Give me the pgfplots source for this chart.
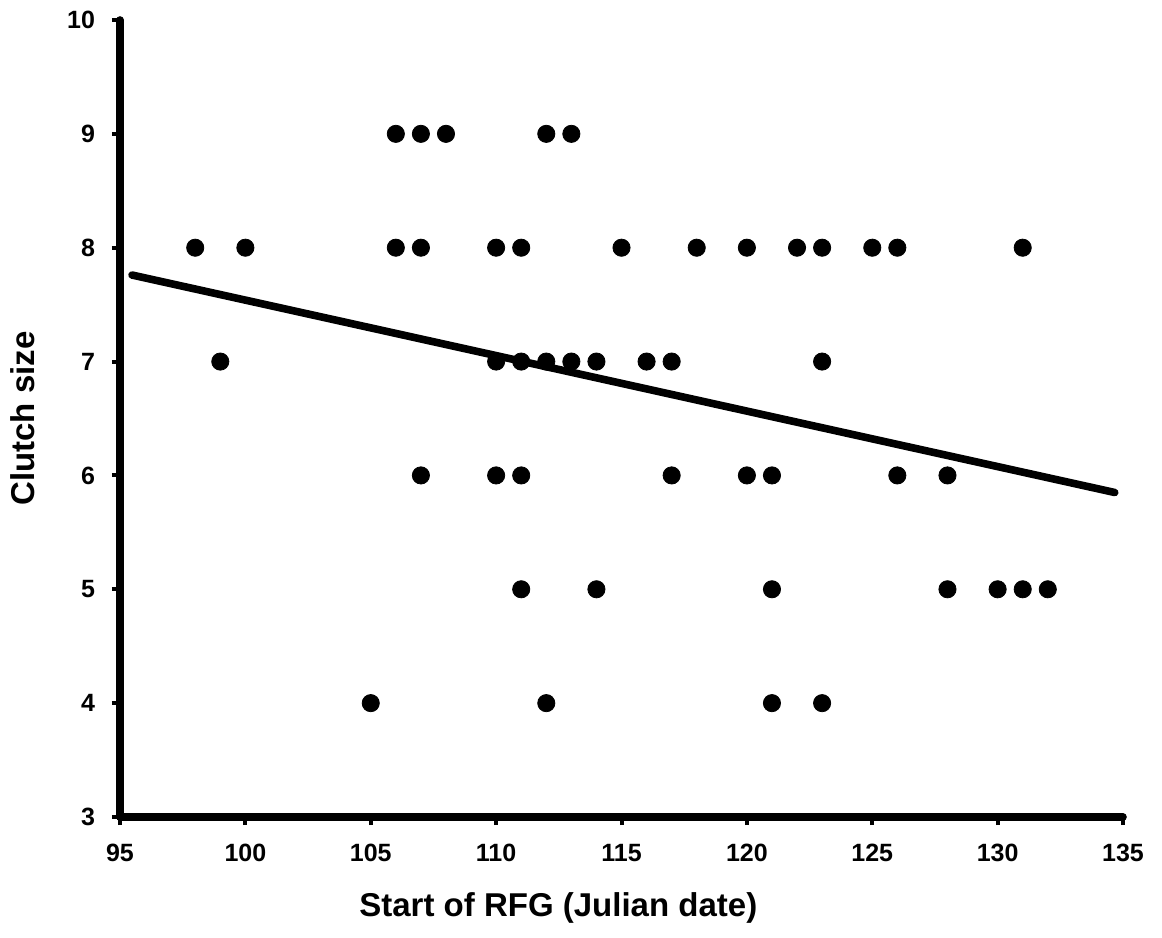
\documentclass[border=0pt]{standalone}
\usepackage{pgfplots}
\pgfplotsset{compat=1.18}
\usepackage{fontspec}
\setmainfont{Liberation Sans}
\begin{document}
\begin{tikzpicture}
\begin{axis}[
  scale only axis,
  width=501.5pt, height=398.5pt,
  xmin=95, xmax=135, ymin=3, ymax=10,
  axis lines=left,
  axis line style={-, line width=3.8pt, line cap=round},
  xtick={95,100,...,135}, ytick={3,4,...,10},
  tick align=outside,
  major tick length=4pt,
  tick style={black, line width=2pt},
  /pgf/number format/assume math mode=true,
  ticklabel style={font=\fontsize{12.5}{14}\selectfont\bfseries},
  xticklabel style={yshift=-6pt},
  yticklabel style={xshift=-5pt},
  label style={font=\fontsize{16.5}{19}\selectfont\bfseries},
  xlabel={Start of RFG (Julian date)},
  ylabel={Clutch size},
  xlabel style={at={(axis description cs:0.437,-0.114)}, anchor=center},
  ylabel style={at={(axis description cs:-0.0967,0.5)}, anchor=center},
  clip=false,
]
\addplot[only marks, mark=*, mark size=4.3pt, black] coordinates {
  (106,9) (107,9) (108,9) (112,9) (113,9)
  (98,8) (100,8) (106,8) (107,8) (110,8) (111,8) (115,8) (118,8) (120,8) (122,8) (123,8) (125,8) (126,8) (131,8)
  (99,7) (110,7) (111,7) (112,7) (113,7) (114,7) (116,7) (117,7) (123,7)
  (107,6) (110,6) (111,6) (117,6) (120,6) (121,6) (126,6) (128,6)
  (111,5) (114,5) (121,5) (128,5) (130,5) (131,5) (132,5)
  (105,4) (112,4) (121,4) (123,4)
};
\addplot[black, line width=3.8pt, line cap=round] coordinates {(95.48,7.76) (134.67,5.85)};
\end{axis}
\path ([shift={(-60pt,-60.5pt)}]current axis.south west) rectangle ([shift={(19.5pt,10pt)}]current axis.north east);
\end{tikzpicture}
\end{document}
